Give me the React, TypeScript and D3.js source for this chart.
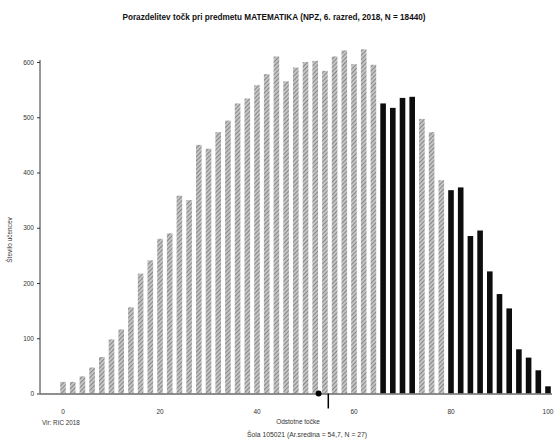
import React, { useEffect, useRef } from "react";
import * as d3 from "d3";

const scores: number[] = [0,2,4,6,8,10,12,14,16,18,20,22,24,26,28,30,32,34,36,38,40,42,44,46,48,50,52,54,56,58,60,62,64,66,68,70,72,74,76,78,80,82,84,86,88,90,92,94,96,98,100];
const counts: number[] = [21,21,31,47,66,98,116,156,217,241,280,290,358,350,450,443,473,494,525,534,558,578,610,565,590,600,602,584,610,621,596,623,595,525,517,535,537,497,473,386,368,373,285,295,221,180,154,80,65,42,13];
const darkScores: number[] = [66,68,70,72,80,82,84,86,88,90,92,94,96,98,100];
const yTicks: number[] = [0,100,200,300,400,500,600];
const xTicks: number[] = [0,20,40,60,80,100];
const nationalMean = 52.7;
const schoolMean = 54.7;
const title = "Porazdelitev točk pri predmetu MATEMATIKA (NPZ, 6. razred, 2018, N = 18440)";
const xLabel = "Odstotne točke";
const schoolLabel = "Šola 105021 (Ar.sredina = 54,7, N = 27)";
const sourceLabel = "Vir: RIC 2018";
const yLabel = "Število učencev";

export default function App() {
  const ref = useRef<SVGSVGElement>(null);
  const W = 554, H = 439;
  const x = d3.scaleLinear().domain([0, 100]).range([63, 548]);
  const y = d3.scaleLinear().domain([0, 600]).range([393.5, 62]);
  const bw = 5.6;

  useEffect(() => {
    const svg = d3.select(ref.current);
    svg.selectAll("*").remove();
    const font = "'Liberation Sans', Arial, sans-serif";

    const defs = svg.append("defs");
    const pat = defs.append("pattern")
      .attr("id", "hatch").attr("patternUnits", "userSpaceOnUse")
      .attr("width", 3).attr("height", 3)
      .attr("patternTransform", "rotate(45)");
    pat.append("rect").attr("width", 3).attr("height", 3).attr("fill", "#c4c4c4");
    pat.append("line").attr("x1", 0).attr("y1", 0).attr("x2", 0).attr("y2", 3)
      .attr("stroke", "#6e6e6e").attr("stroke-width", 1.4);

    svg.append("text").attr("x", 274).attr("y", 20).attr("text-anchor", "middle")
      .attr("font-family", font).attr("font-weight", "bold").attr("font-size", 8.2)
      .attr("fill", "#111").text(title);

    const data = scores.map((s, i) => ({ s, c: counts[i], dark: darkScores.includes(s) }));
    svg.append("g").selectAll("rect").data(data).join("rect")
      .attr("x", d => x(d.s) - bw / 2)
      .attr("y", d => y(d.c))
      .attr("width", bw)
      .attr("height", d => y(0) - y(d.c))
      .attr("fill", d => d.dark ? "#0d0d0d" : "url(#hatch)");

    // x baseline
    svg.append("line").attr("x1", 40).attr("x2", 552).attr("y1", y(0) + 0.5).attr("y2", y(0) + 0.5)
      .attr("stroke", "#6a6a6a").attr("stroke-width", 1.6);

    // y axis
    const yAxis = d3.axisLeft(y).tickValues(yTicks).tickSize(3).tickPadding(3);
    const gy = svg.append("g").attr("transform", "translate(40,0)").call(yAxis);
    gy.select(".domain").attr("stroke", "#333").attr("stroke-width", 1).attr("d", `M0,${60}V${y(0)}`);
    gy.selectAll("text").attr("font-family", font).attr("font-size", 6.5).attr("fill", "#333");
    gy.selectAll("line").attr("stroke", "#333");

    // x tick labels
    svg.append("g").selectAll("text").data(xTicks).join("text")
      .attr("x", d => x(d)).attr("y", 414).attr("text-anchor", "middle")
      .attr("font-family", font).attr("font-size", 6.5).attr("fill", "#333")
      .text(d => String(d));

    svg.append("text").attr("x", 12).attr("y", 240).attr("text-anchor", "middle")
      .attr("transform", "rotate(-90,12,240)")
      .attr("font-family", font).attr("font-size", 6.5).attr("fill", "#333").text(yLabel);

    svg.append("text").attr("x", 42).attr("y", 425)
      .attr("font-family", font).attr("font-size", 6.3).attr("fill", "#333").text(sourceLabel);

    svg.append("text").attr("x", 298).attr("y", 424).attr("text-anchor", "middle")
      .attr("font-family", font).attr("font-size", 6.5).attr("fill", "#333").text(xLabel);

    svg.append("text").attr("x", 307).attr("y", 437).attr("text-anchor", "middle")
      .attr("font-family", font).attr("font-size", 6.8).attr("fill", "#333").text(schoolLabel);

    // markers
    svg.append("circle").attr("cx", x(nationalMean)).attr("cy", y(0)).attr("r", 3).attr("fill", "#000");
    svg.append("line").attr("x1", x(schoolMean)).attr("x2", x(schoolMean))
      .attr("y1", y(0)).attr("y2", y(0) + 15).attr("stroke", "#000").attr("stroke-width", 1.5);
  }, []);

  return (
    <svg ref={ref} width={W} height={H}
      style={{ position: "absolute", left: 0, top: 0, background: "#fff" }} />
  );
}
